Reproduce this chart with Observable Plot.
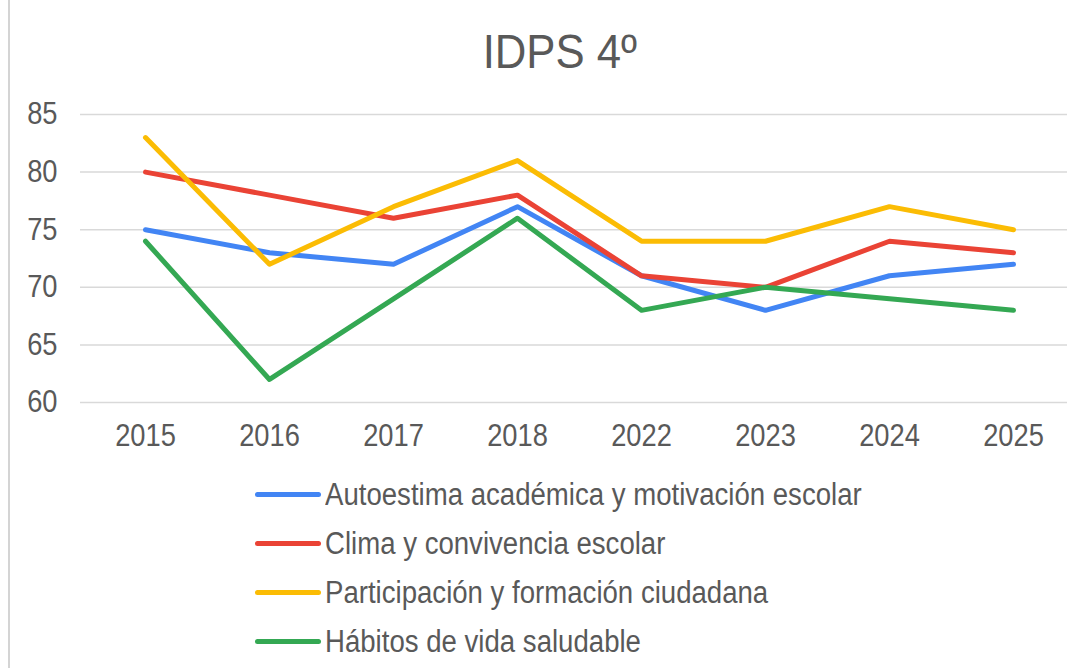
<!DOCTYPE html>
<html>
<head>
<meta charset="utf-8">
<script src="https://cdn.jsdelivr.net/npm/d3@7"></script>
<script src="https://cdn.jsdelivr.net/npm/@observablehq/plot@0.6"></script>
<style>
  html, body { margin: 0; padding: 0; background: #ffffff; }
  body { width: 1067px; height: 668px; overflow: hidden; position: relative;
         font-family: "Liberation Sans", Arial, sans-serif; color: #595959; }
  #border { position: absolute; left: 8px; top: 0; width: 1.5px; height: 668px; background: #d4d4d4; }
  #title { padding-top: 24px; box-sizing: border-box; height: 90px; text-align: center;
           font-size: 48px; line-height: normal; margin-left: 53px; }
  #title span { display: inline-block; transform: scaleX(0.91); transform-origin: center; }
  #chart svg { display: block; }
  #legend { margin-left: 255px; }
  .row { height: 49px; line-height: 49px; font-size: 31px; white-space: nowrap; }
  .sw { display: inline-block; width: 66px; height: 5px; border-radius: 3px; vertical-align: middle; margin-right: 4px; position: relative; top: -2px; }
  .lt { display: inline-block; transform: scaleX(0.89); transform-origin: left center; }
</style>
</head>
<body>
<div id="border"></div>
<div id="title"><span>IDPS 4º</span></div>
<div id="chart"></div>
<div id="legend"></div>
<script>
const years = ["2015", "2016", "2017", "2018", "2022", "2023", "2024", "2025"];
const seriesNames = [
  "Autoestima académica y motivación escolar",
  "Clima y convivencia escolar",
  "Participación y formación ciudadana",
  "Hábitos de vida saludable"
];
const autoestima = [75, 73, 72, 77, 71, 68, 71, 72];
const clima = [80, 78, 76, 78, 71, 70, 74, 73];
const participacion = [83, 72, 77, 81, 74, 74, 77, 75];
const habitos = [74, 62, 69, 76, 68, 70, 69, 68];
const colors = ["#4285F4", "#EA4335", "#FBBC04", "#34A853"];
const yTicks = [60, 65, 70, 75, 80, 85];

const seriesValues = [autoestima, clima, participacion, habitos];
const data = [];
seriesNames.forEach((name, i) => {
  years.forEach((yr, j) => data.push({series: name, year: yr, value: seriesValues[i][j]}));
});

const chart = Plot.plot({
  width: 1067,
  height: 380,
  marginLeft: 80,
  marginRight: 0,
  marginTop: 24,
  marginBottom: 68,
  style: {fontFamily: '"Liberation Sans", Arial, sans-serif', fontSize: "31px", color: "#595959", background: "transparent", overflow: "visible"},
  x: {type: "point", domain: years, range: [142, 1016], padding: 0, label: null},
  y: {domain: [60, 85], label: null},
  color: {domain: seriesNames, range: colors},
  marks: [
    Plot.ruleY(yTicks, {stroke: "#d9d9d9", strokeWidth: 1.5}),
    Plot.axisY({ticks: yTicks, tickSize: 0, tickPadding: 23, label: null}),
    Plot.axisX({tickSize: 0, tickPadding: 21, label: null}),
    Plot.line(data, {x: "year", y: "value", z: "series", stroke: "series", strokeWidth: 5, strokeLinecap: "round"})
  ]
});
document.getElementById("chart").appendChild(chart);

// narrow the tick labels horizontally around their anchors
chart.querySelectorAll('g[aria-label="x-axis tick label"] text, g[aria-label="y-axis tick label"] text').forEach(t => {
  const tr = t.getAttribute("transform");
  if (tr) {
    t.setAttribute("transform", tr + " scale(0.88,1)");
  } else {
    const x = +(t.getAttribute("x") || 0);
    t.setAttribute("transform", `translate(${x},0) scale(0.88,1) translate(${-x},0)`);
  }
});

const legend = document.getElementById("legend");
seriesNames.forEach((name, i) => {
  const row = document.createElement("div");
  row.className = "row";
  const sw = document.createElement("span");
  sw.className = "sw";
  sw.style.background = colors[i];
  row.appendChild(sw);
  const lt = document.createElement("span");
  lt.className = "lt";
  lt.textContent = name;
  row.appendChild(lt);
  legend.appendChild(row);
});
</script>
</body>
</html>
